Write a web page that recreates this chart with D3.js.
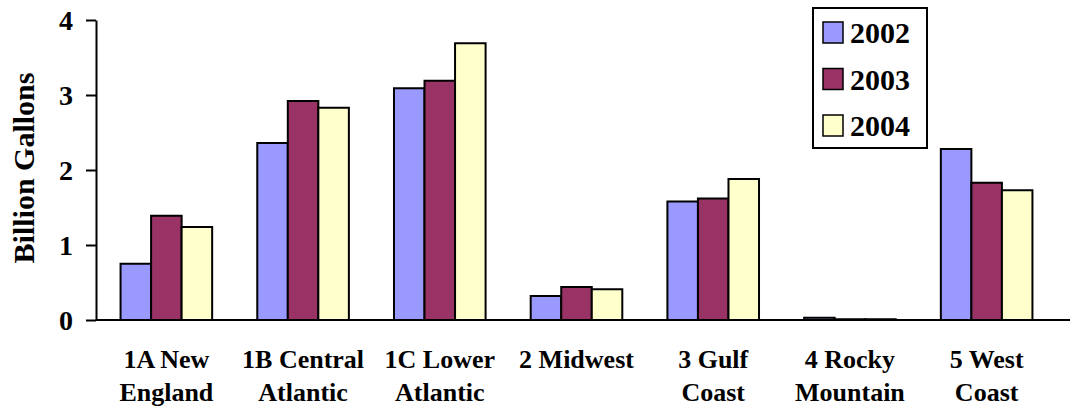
<!DOCTYPE html>
<html>
<head>
<meta charset="utf-8">
<script src="https://cdn.jsdelivr.net/npm/d3@7"></script>
<style>
  body { margin: 0; background: #fff; }
  svg text { font-family: "Liberation Serif", Tinos, "Times New Roman", Times, "DejaVu Serif", serif; font-weight: bold; fill: #000; }
</style>
</head>
<body>
<div id="chart"></div>
<script>
var regions = [["1A New", "England"], ["1B Central", "Atlantic"], ["1C Lower", "Atlantic"],
               ["2 Midwest"], ["3 Gulf", "Coast"], ["4 Rocky", "Mountain"], ["5 West", "Coast"]];
var years = ["2002", "2003", "2004"];
var v2002 = [0.75, 2.36, 3.09, 0.32, 1.58, 0.03, 2.28];
var v2003 = [1.39, 2.92, 3.19, 0.44, 1.62, 0.01, 1.83];
var v2004 = [1.24, 2.83, 3.69, 0.41, 1.88, 0.01, 1.73];
var yTicks = [0, 1, 2, 3, 4];
var colors = ["#9999ff", "#993366", "#ffffcc"];

var series = [v2002, v2003, v2004];
var W = 1072, H = 409;
var margin = {top: 20, left: 96, bottom: 89};
var serif = "'Liberation Serif', Tinos, 'Times New Roman', Times, 'DejaVu Serif', serif";

var svg = d3.select("#chart").append("svg")
    .attr("width", W).attr("height", H)
    .attr("font-family", serif);

var x0 = d3.scaleBand()
    .domain(d3.range(regions.length))
    .range([98, 1055])
    .paddingInner(0.33).paddingOuter(0.165);

var x1 = d3.scaleBand()
    .domain(years)
    .range([0, x0.bandwidth()]);

var y = d3.scaleLinear().domain([0, 4]).range([H - margin.bottom, margin.top]);

// bars
var groups = svg.append("g").selectAll("g")
    .data(regions)
    .join("g")
    .attr("transform", function(d, i) { return "translate(" + x0(i) + ",0)"; });

groups.selectAll("rect")
    .data(function(d, i) { return years.map(function(yr, j) { return {yr: yr, j: j, v: series[j][i]}; }); })
    .join("rect")
    .attr("x", function(d) { return x1(d.yr); })
    .attr("width", x1.bandwidth())
    .attr("y", function(d) { return y(d.v); })
    .attr("height", function(d) { return y(0) - y(d.v); })
    .attr("fill", function(d) { return colors[d.j]; })
    .attr("stroke", "#000")
    .attr("stroke-width", 2);

// x axis line
svg.append("line")
    .attr("x1", margin.left).attr("x2", 1070)
    .attr("y1", y(0)).attr("y2", y(0))
    .attr("stroke", "#000").attr("stroke-width", 2);

// y axis
var yAxis = svg.append("g")
    .attr("transform", "translate(" + margin.left + ",0)")
    .call(d3.axisLeft(y).tickValues(yTicks).tickSize(10).tickPadding(13).tickSizeOuter(0)
      .tickFormat(d3.format("d")));
yAxis.attr("font-family", serif);
yAxis.select(".domain").attr("stroke", "#000").attr("stroke-width", 2);
yAxis.selectAll(".tick line").attr("stroke", "#000").attr("stroke-width", 2);
yAxis.selectAll(".tick text")
    .style("font-size", "28px")
    .style("font-family", serif)
    .style("font-weight", "bold")
    .attr("dy", "0.35em");

// y title
svg.append("text")
    .attr("transform", "translate(34," + (y(2) - 2) + ") rotate(-90)")
    .attr("text-anchor", "middle")
    .style("font-family", serif)
    .style("font-size", "30px")
    .text("Billion Gallons");

// x labels
var labels = svg.append("g").selectAll("text")
    .data(regions)
    .join("text")
    .attr("text-anchor", "middle")
    .style("font-family", serif)
    .style("font-size", "26px")
    .attr("transform", function(d, i) { return "translate(" + (x0(i) + x0.bandwidth() / 2) + ",368)"; });
labels.selectAll("tspan")
    .data(function(d) { return d; })
    .join("tspan")
    .attr("x", 0)
    .attr("y", function(d, i) { return i * 33; })
    .text(function(d) { return d; });

// legend
var legend = svg.append("g");
legend.append("rect")
    .attr("x", 813).attr("y", 8).attr("width", 114).attr("height", 140)
    .attr("fill", "#fff").attr("stroke", "#000").attr("stroke-width", 2);
var items = legend.selectAll("g.item")
    .data(years)
    .join("g")
    .attr("class", "item")
    .attr("transform", function(d, i) { return "translate(823," + (22 + i * 46.5) + ")"; });
items.append("rect")
    .attr("width", 20).attr("height", 21)
    .attr("fill", function(d, i) { return colors[i]; })
    .attr("stroke", "#000").attr("stroke-width", 1.5);
items.append("text")
    .attr("x", 27).attr("y", 21)
    .style("font-family", serif)
    .style("font-size", "30px")
    .text(function(d) { return d; });
</script>
</body>
</html>
